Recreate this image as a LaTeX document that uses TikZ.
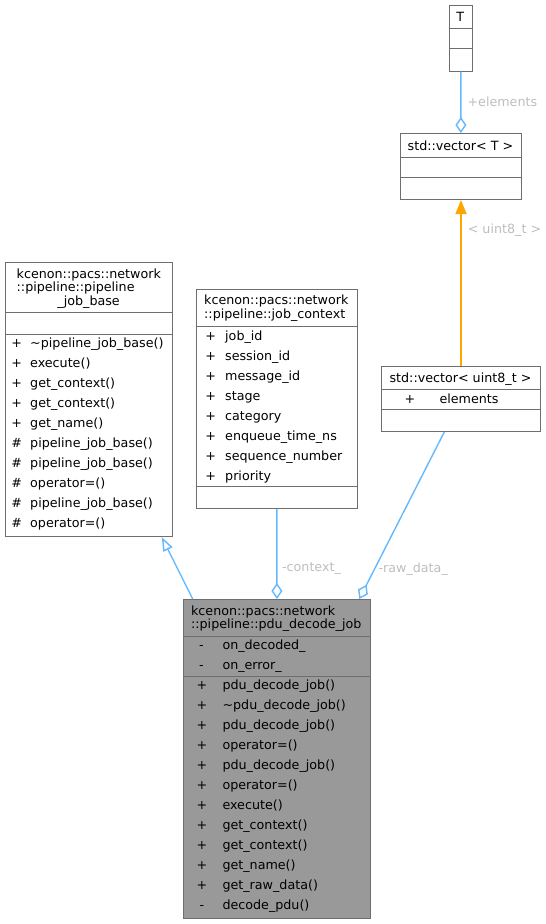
\documentclass[tikz,border=0pt]{standalone}
\usepackage{fontspec}
\setmainfont{DejaVu Sans}
\usetikzlibrary{arrows.meta}
\usetikzlibrary{calc,positioning}
\definecolor{boxline}{HTML}{6E6E6E}
\definecolor{focusfill}{HTML}{999999}
\definecolor{edgeblue}{HTML}{63B8FF}
\definecolor{edgeorange}{HTML}{FFA500}
\definecolor{lblgrey}{HTML}{BEBEBE}
\tikzset{
	umlbox/.style={draw=boxline, line width=1pt, fill=white, inner sep=0pt, anchor=north west},
	focusbox/.style={umlbox, fill=focusfill},
	sepline/.style={draw=boxline, line width=1pt},
	memb/.style={font=\fontsize{12.7pt}{15pt}\selectfont, inner sep=0pt, text height=9.3pt, text depth=0pt, anchor=west},
	midtxt/.style={memb, anchor=center},
	lbl/.style={memb, text=lblgrey},
	aggrline/.style={draw=edgeblue, line width=1.4pt, -{Diamond[open, length=16pt, width=11pt]}},
	inheritline/.style={draw=edgeblue, line width=1.4pt, -{Triangle[open, length=14pt, width=10pt]}},
	tmplline/.style={draw=edgeorange, line width=1.6pt, -{Triangle[length=14pt, width=11pt]}}
}
\begin{document}
\begin{tikzpicture}[x=1pt, y=-1pt]
			\useasboundingbox (0,0) rectangle (546,924);
			\node[umlbox, minimum width=22.5pt, minimum height=65.5pt] (T) at (449,5) {};
			\node[midtxt] (T-title) at (460.2,16.7) {T};
			\draw[sepline] ([yshift=-23.3pt]T.north west) -- ([yshift=-23.3pt]T.north east);
			\draw[sepline] ([yshift=-43.3pt]T.north west) -- ([yshift=-43.3pt]T.north east);
			\node[umlbox, minimum width=121pt, minimum height=66pt] (vecT) at (400,133) {};
			\node[midtxt] (vecT-title) at (460.5,145.5) {std::vector< T >};
			\draw[sepline] ([yshift=-24pt]vecT.north west) -- ([yshift=-24pt]vecT.north east);
			\draw[sepline] ([yshift=-44pt]vecT.north west) -- ([yshift=-44pt]vecT.north east);
			\node[umlbox, minimum width=159pt, minimum height=65pt] (vecU8) at (381,366) {};
			\node[midtxt] (vecU8-title) at (460.5,378) {std::vector< uint8\_t >};
			\node[midtxt] (vecU8-s0) at (410,399) {+};
			\node[memb] (vecU8-m0) at (439.3,399) {elements};
			\draw[sepline] ([yshift=-23pt]vecU8.north west) -- ([yshift=-23pt]vecU8.north east);
			\draw[sepline] ([yshift=-43pt]vecU8.north west) -- ([yshift=-43pt]vecU8.north east);
			\node[umlbox, minimum width=167.3pt, minimum height=274pt] (pjb) at (5,262) {};
			\node[memb] (pjb-t1) at (16.5,273.7) {kcenon::pacs::network};
			\node[memb] (pjb-t2) at (16.5,287.3) {::pipeline::pipeline};
			\node[midtxt] (pjb-t3) at (88.6,300.9) {\_job\_base};
			\draw[sepline] ([yshift=-50pt]pjb.north west) -- ([yshift=-50pt]pjb.north east);
			\draw[sepline] ([yshift=-72pt]pjb.north west) -- ([yshift=-72pt]pjb.north east);
			\foreach \s/\m [count=\i from 0] in {+/\textasciitilde pipeline\_job\_base(), +/execute(), +/get\_context(), +/get\_context(), +/get\_name(), \#/pipeline\_job\_base(), \#/pipeline\_job\_base(), \#/operator=(), \#/pipeline\_job\_base(), \#/operator=()} {
				\node[midtxt] (pjb-s\i) at (16.6,343+20*\i) {\s};
				\node[memb] (pjb-m\i) at (30,343+20*\i) {\m};
			}
			\node[umlbox, minimum width=161pt, minimum height=219.2pt] (jc) at (195.7,288.5) {};
			\node[memb] (jc-t1) at (204,300.2) {kcenon::pacs::network};
			\node[memb] (jc-t2) at (204,313.8) {::pipeline::job\_context};
			\draw[sepline] ([yshift=-37.5pt]jc.north west) -- ([yshift=-37.5pt]jc.north east);
			\draw[sepline] ([yshift=-198pt]jc.north west) -- ([yshift=-198pt]jc.north east);
			\foreach \m [count=\i from 0] in {job\_id, session\_id, message\_id, stage, category, enqueue\_time\_ns, sequence\_number, priority} {
				\node[midtxt] (jc-s\i) at (210.8,335.7+20*\i) {+};
				\node[memb] (jc-m\i) at (225,335.7+20*\i) {\m};
			}
			\node[focusbox, minimum width=186.7pt, minimum height=319pt] (pdu) at (183.3,599) {};
			\node[memb] (pdu-t1) at (190.9,610.7) {kcenon::pacs::network};
			\node[memb] (pdu-t2) at (190.9,624.3) {::pipeline::pdu\_decode\_job};
			\draw[sepline] ([yshift=-37pt]pdu.north west) -- ([yshift=-37pt]pdu.north east);
			\draw[sepline] ([yshift=-77pt]pdu.north west) -- ([yshift=-77pt]pdu.north east);
			\foreach \m [count=\i from 0] in {on\_decoded\_, on\_error\_} {
				\node[midtxt] (pdu-a\i) at (201.5,645+20*\i) {-};
				\node[memb] (pdu-n\i) at (222.3,645+20*\i) {\m};
			}
			\foreach \s/\m [count=\i from 0] in {+/pdu\_decode\_job(), +/\textasciitilde pdu\_decode\_job(), +/pdu\_decode\_job(), +/operator=(), +/pdu\_decode\_job(), +/operator=(), +/execute(), +/get\_context(), +/get\_context(), +/get\_name(), +/get\_raw\_data(), -/decode\_pdu()} {
				\node[midtxt] (pdu-s\i) at (202,685+20*\i) {\s};
				\node[memb] (pdu-m\i) at (222.3,685+20*\i) {\m};
			}
			\draw[aggrline] (T) -- (vecT) node[lbl, pos=.5, xshift=6pt] {+elements};
			\draw[tmplline] (vecU8) -- (vecT) node[lbl, pos=.826, xshift=6pt] {< uint8\_t >};
			\draw[inheritline] ($(pdu.north west)+(9.4,0)$) -- ($(pjb.south east)+(-11.6,0)$);
			\draw[aggrline] (jc) -- (pdu) node[lbl, pos=.646, xshift=4.5pt] {-context\_};
			\draw[aggrline] ($(vecU8.south west)+(63.3,0)$) -- ($(pdu.north east)+(-11.7,0)$) node[lbl, pos=.811, xshift=2.5pt] {-raw\_data\_};
		\end{tikzpicture}
\end{document}
